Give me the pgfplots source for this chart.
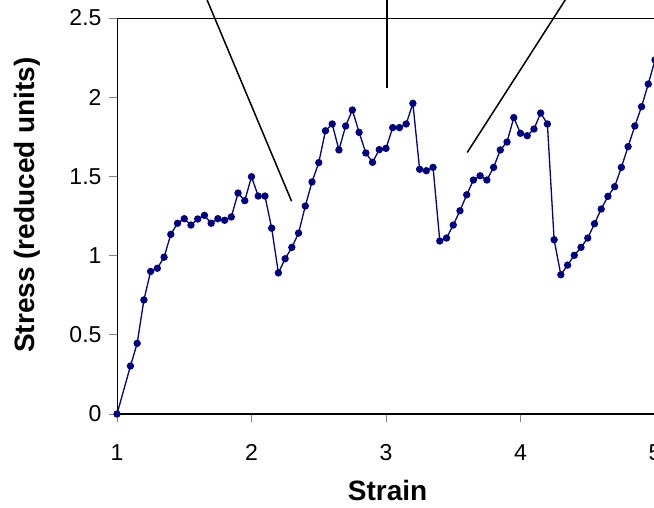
\documentclass[border=0pt]{standalone}
\usepackage{fontspec}
\setmainfont{Liberation Sans}
\usepackage{pgfplots}
\pgfplotsset{compat=1.18}
\definecolor{navy}{RGB}{0,0,128}
\begin{document}
\begin{tikzpicture}
\path[use as bounding box] (0,0) rectangle (654pt,507pt);
\clip (0,0) rectangle (654pt,507pt);
\begin{axis}[
  at={(117pt,93pt)}, anchor=south west,
  scale only axis, width=538pt, height=396pt,
  xmin=1, xmax=5, ymin=0, ymax=2.5,
  xtick={1,2,3,4,5}, ytick={0,0.5,1,1.5,2,2.5},
  xtick pos=left, ytick pos=left,
  tick align=outside, major tick length=8pt,
  tick style={gray, line width=0.8pt},
  axis line style={black, line width=0.8pt},
  clip=false,
  /pgf/number format/assume math mode=true,
  ticklabel style={font=\fontsize{23}{27}\selectfont},
  xticklabel style={yshift=-19pt},
  yticklabel style={xshift=-4pt},
  xlabel={Strain}, ylabel={Stress (reduced units)},
  label style={font=\fontsize{28}{32}\selectfont\bfseries},
  xlabel style={at={(axis description cs:0.503,-0.194)}, anchor=center},
  ylabel style={at={(axis description cs:-0.166,0.528)}, anchor=center},
]
\draw[black, line width=1.8pt] (axis cs:1,0) -- (axis cs:5.2,0);
\addplot[navy, line width=1.3pt, mark=*, mark size=3pt, mark options={fill=navy, draw=navy}] coordinates {
(1.00,0) (1.10,0.303) (1.15,0.446) (1.20,0.72) (1.25,0.90) (1.30,0.92) (1.35,0.99)
(1.40,1.134) (1.45,1.204) (1.50,1.233) (1.55,1.193) (1.60,1.231) (1.65,1.254)
(1.70,1.204) (1.75,1.233) (1.80,1.223) (1.85,1.244) (1.90,1.395) (1.95,1.347)
(2.00,1.498) (2.05,1.376) (2.10,1.376) (2.15,1.173) (2.20,0.891) (2.25,0.98)
(2.30,1.052) (2.35,1.142) (2.40,1.313) (2.45,1.465) (2.50,1.587) (2.55,1.788)
(2.60,1.831) (2.65,1.667) (2.70,1.818) (2.75,1.919) (2.80,1.778) (2.85,1.648)
(2.90,1.589) (2.95,1.669) (3.00,1.677) (3.05,1.808) (3.10,1.808) (3.15,1.831)
(3.20,1.961) (3.25,1.545) (3.30,1.536) (3.35,1.557) (3.40,1.092) (3.45,1.111)
(3.50,1.193) (3.55,1.283) (3.60,1.384) (3.65,1.477) (3.70,1.504) (3.75,1.477)
(3.80,1.557) (3.85,1.667) (3.90,1.717) (3.95,1.871) (4.00,1.772) (4.05,1.757)
(4.10,1.799) (4.15,1.90) (4.20,1.831) (4.25,1.10) (4.30,0.879) (4.35,0.94)
(4.40,1.002) (4.45,1.052) (4.50,1.111) (4.55,1.201) (4.60,1.294) (4.65,1.374)
(4.70,1.435) (4.75,1.557) (4.80,1.688) (4.85,1.818) (4.90,1.94) (4.95,2.083)
(5.00,2.235)
};
\addplot[black, line width=1.5pt, no marks] coordinates {(1.652,2.65) (2.298,1.343)};
\addplot[black, line width=1.5pt, no marks] coordinates {(3.007,2.65) (3.007,2.055)};
\addplot[black, line width=1.5pt, no marks] coordinates {(4.360,2.65) (3.604,1.651)};
\end{axis}
\end{tikzpicture}
\end{document}
